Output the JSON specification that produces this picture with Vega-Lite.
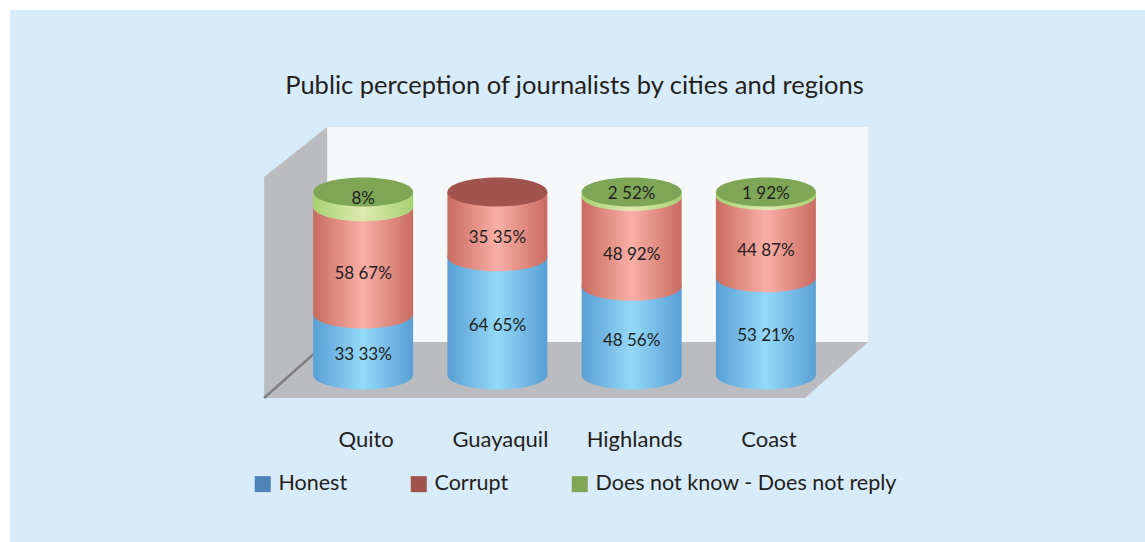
{
"$schema":"https://vega.github.io/schema/vega-lite/v6.json",
"width":1135,"height":532,
"autosize":{"type":"none"},
"padding":{"left":10,"top":10,"right":0,"bottom":0},
"background":"#ffffff",
"view":{"fill":"#d8ebf9","stroke":null},
"title":{"text":"Public perception of journalists by cities and regions","frame":"group","anchor":"middle","offset":-114,"dx":-3,"baseline":"bottom","font":"Lato","fontSize":25.5,"fontWeight":"normal","color":"#231f20"},
"config":{"font":"Lato"},
"data":{"values":[
{"city":"Quito","response":"Honest","value":33.33,"label":"33 33%"},
{"city":"Quito","response":"Corrupt","value":58.67,"label":"58 67%"},
{"city":"Quito","response":"Does not know - Does not reply","value":8,"label":"8%"},
{"city":"Guayaquil","response":"Honest","value":64.65,"label":"64 65%"},
{"city":"Guayaquil","response":"Corrupt","value":35.35,"label":"35 35%"},
{"city":"Highlands","response":"Honest","value":48.56,"label":"48 56%"},
{"city":"Highlands","response":"Corrupt","value":48.92,"label":"48 92%"},
{"city":"Highlands","response":"Does not know - Does not reply","value":2.52,"label":"2 52%"},
{"city":"Coast","response":"Honest","value":53.21,"label":"53 21%"},
{"city":"Coast","response":"Corrupt","value":44.87,"label":"44 87%"},
{"city":"Coast","response":"Does not know - Does not reply","value":1.92,"label":"1 92%"}
]},
"transform":[{"stack":"value","groupby":["city"],"as":["y0","y1"]},{"joinaggregate":[{"op":"max","field":"y1","as":"top"}],"groupby":["city"]}],
"layer":[
{"data":{"values":[{"part":"back wall"}]},"mark":{"type":"point","filled":true,"size":4,"fill":"#f5f8f8","opacity":1,"strokeWidth":0,"shape":"M-36,-248L505,-248L505,-33L-36,-33Z"},
 "encoding":{"x":{"datum":"Quito","type":"nominal","scale":{"type":"band","domain":["Quito","Guayaquil","Highlands","Coast"],"range":[286,823],"paddingInner":0,"paddingOuter":0},"axis":{"title":null,"domain":false,"ticks":false,"grid":false,"orient":"bottom","offset":-113,"labelAngle":0,"labelFontSize":22,"labelColor":"#231f20","labelFont":"Lato","labelOffset":3,"labelPadding":0}},
 "y":{"datum":0,"type":"quantitative","scale":{"domain":[0,100],"range":[365,182]},"axis":null}}},
{"data":{"values":[{"part":"floor"}]},"mark":{"type":"point","filled":true,"size":4,"fill":"#bbbcc0","opacity":1,"strokeWidth":0,"shape":"M-99,23L442,23L505,-33L-36,-33Z"},
 "encoding":{"x":{"datum":"Quito","type":"nominal"},"y":{"datum":0,"type":"quantitative"}}},
{"data":{"values":[{"part":"side wall"}]},"mark":{"type":"point","filled":true,"size":4,"fill":"#bbbcc0","opacity":1,"strokeWidth":0,"shape":"M-99,-198L-36,-248L-36,-33L-99,23Z"},
 "encoding":{"x":{"datum":"Quito","type":"nominal"},"y":{"datum":0,"type":"quantitative"}}},
{"data":{"values":[{"part":"edge"}]},"mark":{"type":"point","filled":false,"size":4,"stroke":"#808083","opacity":1,"strokeWidth":2.5,"shape":"M-99,23L-36,-33"},
 "encoding":{"x":{"datum":"Quito","type":"nominal"},"y":{"datum":0,"type":"quantitative"}}},
{"transform":[{"filter":"datum.response==='Honest'"}],"mark":{"type":"bar","width":100,"fill":{"gradient":"linear","x1":0,"y1":0,"x2":1,"y2":0,"stops":[{"offset":0,"color":"#5a9fd5"},{"offset":0.5,"color":"#93d9f8"},{"offset":1,"color":"#5a9fd5"}]}},
 "encoding":{"x":{"field":"city","type":"nominal"},"y":{"field":"y0","type":"quantitative"},"y2":{"field":"y1"}}},
{"transform":[{"filter":"datum.response==='Honest'"}],"mark":{"type":"point","filled":true,"opacity":1,"size":10000,"strokeWidth":0,"shape":"M-1,0A1,0.29,0,1,0,1,0A1,0.29,0,1,0,-1,0Z","fill":{"gradient":"linear","x1":0,"y1":0,"x2":1,"y2":0,"stops":[{"offset":0,"color":"#5a9fd5"},{"offset":0.5,"color":"#93d9f8"},{"offset":1,"color":"#5a9fd5"}]}},
 "encoding":{"x":{"field":"city","type":"nominal"},"y":{"field":"y0","type":"quantitative"}}},
{"transform":[{"filter":"datum.response==='Corrupt'"}],"mark":{"type":"bar","width":100,"fill":{"gradient":"linear","x1":0,"y1":0,"x2":1,"y2":0,"stops":[{"offset":0,"color":"#c96b60"},{"offset":0.5,"color":"#f9afa7"},{"offset":1,"color":"#c96b60"}]}},
 "encoding":{"x":{"field":"city","type":"nominal"},"y":{"field":"y0","type":"quantitative"},"y2":{"field":"y1"}}},
{"transform":[{"filter":"datum.response==='Corrupt'"}],"mark":{"type":"point","filled":true,"opacity":1,"size":10000,"strokeWidth":0,"shape":"M-1,0A1,0.29,0,1,0,1,0A1,0.29,0,1,0,-1,0Z","fill":{"gradient":"linear","x1":0,"y1":0,"x2":1,"y2":0,"stops":[{"offset":0,"color":"#c96b60"},{"offset":0.5,"color":"#f9afa7"},{"offset":1,"color":"#c96b60"}]}},
 "encoding":{"x":{"field":"city","type":"nominal"},"y":{"field":"y0","type":"quantitative"}}},
{"transform":[{"filter":"datum.response==='Does not know - Does not reply'"}],"mark":{"type":"bar","width":100,"fill":{"gradient":"linear","x1":0,"y1":0,"x2":1,"y2":0,"stops":[{"offset":0,"color":"#a6d172"},{"offset":0.5,"color":"#dfeab0"},{"offset":1,"color":"#a6d172"}]}},
 "encoding":{"x":{"field":"city","type":"nominal"},"y":{"field":"y0","type":"quantitative"},"y2":{"field":"y1"}}},
{"transform":[{"filter":"datum.response==='Does not know - Does not reply'"}],"mark":{"type":"point","filled":true,"opacity":1,"size":10000,"strokeWidth":0,"shape":"M-1,0A1,0.29,0,1,0,1,0A1,0.29,0,1,0,-1,0Z","fill":{"gradient":"linear","x1":0,"y1":0,"x2":1,"y2":0,"stops":[{"offset":0,"color":"#a6d172"},{"offset":0.5,"color":"#dfeab0"},{"offset":1,"color":"#a6d172"}]}},
 "encoding":{"x":{"field":"city","type":"nominal"},"y":{"field":"y0","type":"quantitative"}}},
{"transform":[{"filter":"datum.y1===datum.top"}],"mark":{"type":"point","filled":true,"opacity":1,"size":10000,"strokeWidth":0,"shape":"M-1,0A1,0.29,0,1,0,1,0A1,0.29,0,1,0,-1,0Z"},
 "encoding":{"x":{"field":"city","type":"nominal"},"y":{"field":"y1","type":"quantitative"},
 "color":{"field":"response","type":"nominal","scale":{"domain":["Honest","Corrupt","Does not know - Does not reply"],"range":["#4f85b6","#a1534d","#7fa656"]},
 "legend":{"title":null,"orient":"none","legendX":242,"legendY":463,"direction":"horizontal","columns":3,"padding":0,"symbolType":"square","symbolSize":256,"symbolStrokeWidth":0,"symbolOpacity":1,"labelFontSize":21.5,"labelFont":"Lato","labelColor":"#231f20","labelOffset":5,"columnPadding":60,"labelLimit":400}}}},
{"transform":[{"filter":"datum.response==='Honest'"},{"calculate":"(datum.y0+datum.y1)/2","as":"mid"}],"mark":{"type":"text","fontSize":17,"font":"Lato","color":"#231f20","dy":10},
 "encoding":{"x":{"field":"city","type":"nominal"},"y":{"field":"mid","type":"quantitative"},"text":{"field":"label"}}},
{"transform":[{"filter":"datum.response==='Corrupt'"},{"calculate":"(datum.y0+datum.y1)/2","as":"mid"}],"mark":{"type":"text","fontSize":17,"font":"Lato","color":"#231f20","dy":14},
 "encoding":{"x":{"field":"city","type":"nominal"},"y":{"field":"mid","type":"quantitative"},"text":{"field":"label"}}},
{"transform":[{"filter":"datum.response==='Does not know - Does not reply'"},{"calculate":"(datum.y0+datum.y1)/2","as":"mid"}],"mark":{"type":"text","fontSize":17,"font":"Lato","color":"#231f20","dy":0},
 "encoding":{"x":{"field":"city","type":"nominal"},"y":{"field":"mid","type":"quantitative"},"text":{"field":"label"}}}
]
}
